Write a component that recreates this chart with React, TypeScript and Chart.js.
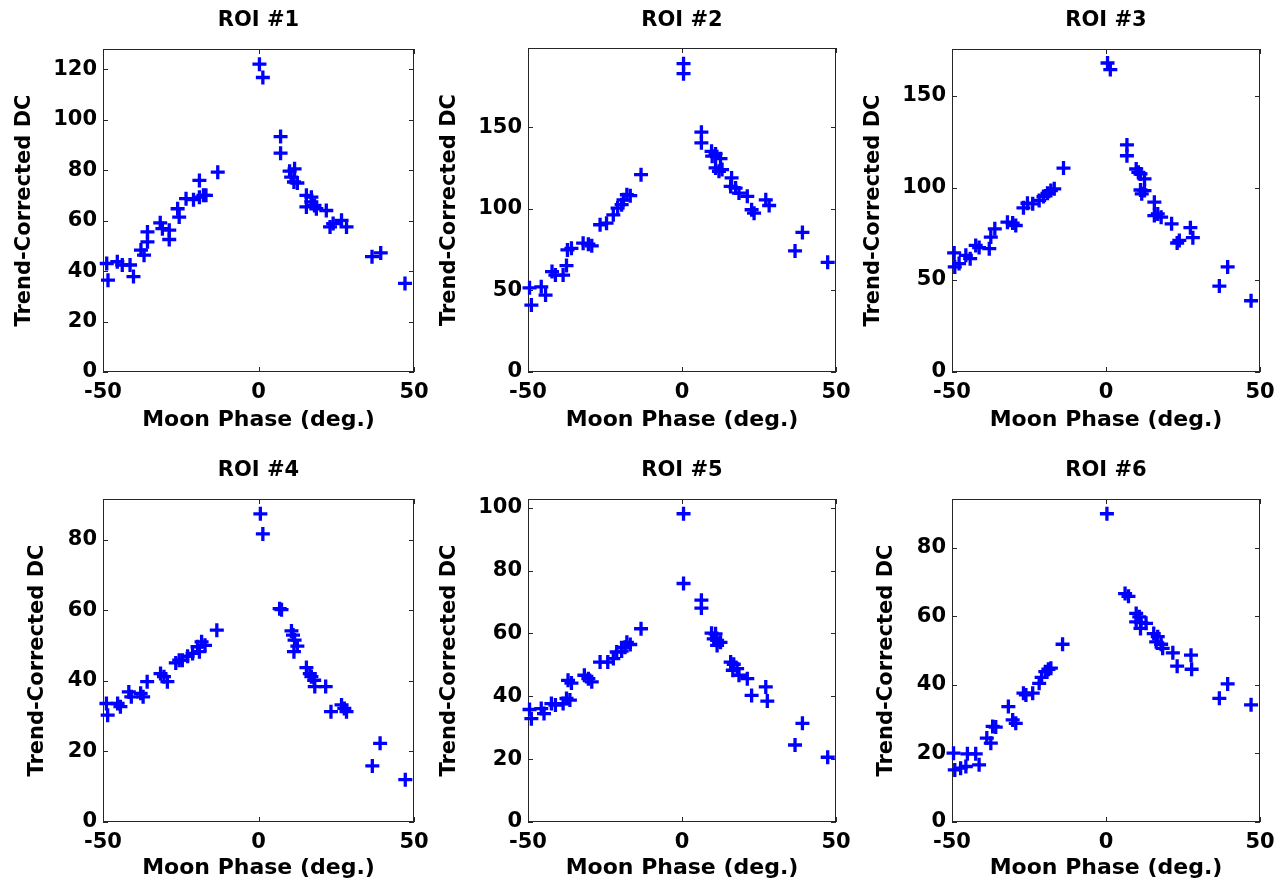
import React, { useEffect, useRef } from "react";
import { Chart, registerables } from "chart.js";

Chart.register(...registerables);

const FONT = "'DejaVu Sans', 'Liberation Sans', sans-serif";

const roiTitles = ["ROI #1", "ROI #2", "ROI #3", "ROI #4", "ROI #5", "ROI #6"];
const xAxisLabel = "Moon Phase (deg.)";
const yAxisLabel = "Trend-Corrected DC";

const xTickValues = [-50, 0, 50];
const yTicks1 = [0, 20, 40, 60, 80, 100, 120];
const yTicks2 = [0, 50, 100, 150];
const yTicks3 = [0, 50, 100, 150];
const yTicks4 = [0, 20, 40, 60, 80];
const yTicks5 = [0, 20, 40, 60, 80, 100];
const yTicks6 = [0, 20, 40, 60, 80];
const yMaxValues = [128, 198.5, 175.5, 91.6, 102.8, 94.3];

const phase1 = [-48.8, -48.4, -45.4, -43.8, -41.3, -40.2, -37.8, -36.8, -35.7, -35.7, -31.6, -30.9, -28.7, -28.7, -26.0, -25.5, -23.3, -20.9, -19.0, -19.0, -17.7, -16.9, -13.1, 0.3, 1.4, 7.1, 7.1, 10.0, 11.6, 10.5, 11.4, 12.5, 15.4, 17.0, 15.4, 17.0, 18.0, 18.6, 21.8, 23.0, 24.0, 26.7, 28.3, 36.5, 39.3, 47.1];
const dc1 = [43, 36.4, 43.7, 42.4, 42.4, 37.8, 48.3, 46.3, 51.6, 55.5, 59.1, 56.8, 56.2, 52.5, 64.7, 61.4, 68.7, 68.3, 75.9, 69.3, 70, 70, 79.2, 122, 116.7, 93.3, 86.7, 79.6, 80.5, 77.2, 75.3, 74.9, 70, 69.3, 65.4, 67.4, 66, 64.7, 64, 57.5, 58.8, 60.1, 57.5, 45.7, 47.2, 35.1];

const phase2 = [-49.5, -48.9, -45.7, -44.3, -42.2, -41.1, -38.6, -37.5, -37.2, -35.9, -32.1, -30.4, -29.3, -26.6, -24.5, -22.3, -20.9, -19.6, -19.0, -17.9, -16.8, -13.3, 0.5, 0.5, 6.3, 6.3, 9.6, 9.8, 10.9, 12.5, 10.9, 12.0, 13.0, 16.1, 15.8, 17.4, 18.5, 21.2, 22.6, 23.4, 27.2, 28.3, 36.7, 39.1, 47.3];
const dc2 = [51.6, 41, 52.2, 47.1, 61.5, 59.4, 59.4, 65.2, 74.8, 75.8, 78.9, 78.3, 77.3, 90.2, 91.2, 96.3, 100.4, 102.5, 105.5, 108.6, 108, 120.9, 188.9, 182.8, 146.9, 140.4, 135.2, 132.2, 133.6, 130.7, 125, 123, 124, 118.9, 113.7, 112.7, 109.6, 107.6, 99.4, 97.3, 105.5, 102, 74.2, 85.5, 67.2];

const phase3 = [-49.3, -49.1, -47.7, -45.5, -44.1, -42.3, -41.2, -37.9, -37.4, -36.1, -32.0, -30.3, -29.3, -26.8, -25.5, -23.8, -21.7, -20.3, -19.0, -17.9, -16.8, -13.8, 0.5, 1.4, 6.8, 6.8, 9.8, 10.5, 11.2, 12.5, 11.2, 12.5, 11.6, 15.7, 15.7, 16.8, 17.9, 21.3, 23.1, 23.8, 27.4, 28.2, 36.8, 39.5, 47.1];
const dc3 = [64.7, 57.1, 58.9, 63.4, 61.6, 68.8, 67.6, 67, 73.3, 77.8, 81.4, 80.9, 79.6, 89.2, 91.7, 91.4, 93.2, 95.3, 97.1, 98.6, 99.5, 110.8, 167.9, 164.3, 123.4, 117.5, 110.3, 108.5, 107.6, 104.9, 98.9, 98.6, 96.8, 92.3, 85, 85.9, 84.1, 80.5, 70.1, 71.5, 78.4, 73, 46.7, 57.1, 38.7];

const phase4 = [-48.9, -48.5, -45.3, -44.4, -41.7, -40.9, -37.9, -37.1, -35.8, -31.5, -30.4, -29.3, -26.6, -25.5, -24.5, -22.8, -21.2, -19.6, -19.0, -18.3, -17.2, -13.4, 0.6, 1.4, 6.8, 7.4, 10.6, 11.1, 11.6, 12.5, 11.4, 15.4, 16.5, 17.0, 17.9, 18.1, 21.6, 23.3, 26.7, 27.6, 28.3, 36.6, 39.1, 47.2];
const dc4 = [33.6, 30.3, 33.6, 32.7, 36.9, 35.5, 36.5, 35.5, 39.8, 42.1, 41.2, 39.8, 45.1, 45.9, 45.9, 47, 47.8, 49.7, 48.3, 51.1, 50.1, 54.4, 87.4, 81.7, 60.5, 60.2, 54.2, 53, 51.6, 49.9, 48.3, 43.8, 42.1, 41.2, 40.2, 38.4, 38.4, 31.3, 33.2, 32.2, 31.3, 15.9, 22.3, 12];

const phase5 = [-49.5, -48.9, -45.7, -44.8, -42.4, -41.1, -38.6, -37.5, -36.4, -37.0, -35.9, -31.7, -30.4, -29.3, -26.6, -24.1, -22.3, -21.2, -19.6, -18.5, -17.9, -16.8, -13.3, 0.5, 0.5, 6.3, 6.3, 9.6, 10.9, 10.3, 11.4, 12.5, 11.4, 15.8, 16.8, 16.5, 17.9, 18.5, 21.2, 22.6, 27.2, 27.7, 36.7, 39.1, 47.3];
const dc5 = [35.8, 32.9, 36.1, 34.5, 37.7, 37.2, 37.7, 39.3, 38.8, 45.1, 44.2, 46.7, 45.6, 44.6, 50.9, 50.9, 52, 54.1, 54.4, 55.6, 57.2, 56.5, 61.5, 98.1, 75.9, 70.6, 68.1, 60.1, 59.9, 58.3, 57.8, 57.2, 56.2, 50.9, 50.2, 48.3, 48.8, 46.7, 45.6, 40.3, 43, 38.5, 24.5, 31.4, 20.6];

const phase6 = [-49.5, -49.1, -47.2, -45.0, -45.5, -42.3, -41.2, -38.7, -37.4, -36.8, -35.8, -31.7, -30.3, -29.3, -26.8, -26.0, -23.8, -21.7, -20.9, -19.7, -18.7, -17.9, -14.1, 0.3, 6.2, 7.3, 9.8, 10.8, 9.8, 11.4, 13.0, 11.2, 15.5, 16.8, 16.3, 17.9, 18.4, 21.7, 23.1, 27.6, 27.8, 36.8, 39.5, 47.1];
const dc6 = [20.1, 15.2, 15.7, 19.9, 16.2, 19.9, 16.7, 24.5, 23, 27.9, 27.7, 33.7, 29.8, 28.8, 37.6, 37.1, 37.6, 40.5, 42.2, 43.9, 44.6, 44.9, 51.9, 90, 66.7, 65.9, 60.9, 59.9, 58.4, 58.2, 58, 56.5, 55, 54.1, 52.6, 51.9, 50.7, 49.4, 45.5, 48.7, 44.6, 36.1, 40.3, 34.2];

const allPhases = [phase1, phase2, phase3, phase4, phase5, phase6];
const allDC = [dc1, dc2, dc3, dc4, dc5, dc6];
const allYTicks = [yTicks1, yTicks2, yTicks3, yTicks4, yTicks5, yTicks6];

// layout: canvas box and plot rectangle in page coordinates
const layouts = [
  { left: 0, top: 0, width: 430, height: 440, plot: [103, 49, 414, 372], titleMid: 21, yLabelOffset: 78, xTitleMid: 420.5 },
  { left: 430, top: 0, width: 425, height: 440, plot: [528, 48, 836, 372], titleMid: 21, yLabelOffset: 78, xTitleMid: 420.5 },
  { left: 855, top: 0, width: 425, height: 440, plot: [952, 49, 1260, 372], titleMid: 21, yLabelOffset: 78, xTitleMid: 420.5 },
  { left: 0, top: 440, width: 430, height: 441, plot: [103, 499, 414, 822], titleMid: 471, yLabelOffset: 65, xTitleMid: 868.5 },
  { left: 430, top: 440, width: 425, height: 441, plot: [528, 499, 836, 822], titleMid: 471, yLabelOffset: 78, xTitleMid: 868.5 },
  { left: 855, top: 440, width: 425, height: 441, plot: [952, 499, 1260, 822], titleMid: 471, yLabelOffset: 65, xTitleMid: 868.5 },
];

const TICK_SIZE = 21;
const TITLE_SIZE = 21;
const YLABEL_SIZE = 21;
const XLABEL_SIZE = 22;

const framePlugin = {
  id: "matlabFrame",
  beforeDatasetsDraw(chart: any) {
    const { ctx, chartArea: a, scales } = chart;
    const x = scales.x;
    const y = scales.y;
    ctx.save();
    ctx.strokeStyle = "#262626";
    ctx.lineWidth = 1;
    ctx.strokeRect(a.left + 0.5, a.top + 0.5, a.right - a.left - 1, a.bottom - a.top - 1);
    const tl = 5;
    ctx.beginPath();
    y.ticks.forEach((t: any) => {
      const py = Math.round(y.getPixelForValue(t.value)) + 0.5;
      ctx.moveTo(a.left, py);
      ctx.lineTo(a.left + tl, py);
      ctx.moveTo(a.right, py);
      ctx.lineTo(a.right - tl, py);
    });
    x.ticks.forEach((t: any) => {
      const px = Math.round(x.getPixelForValue(t.value)) + 0.5;
      ctx.moveTo(px, a.bottom);
      ctx.lineTo(px, a.bottom - tl);
      ctx.moveTo(px, a.top);
      ctx.lineTo(px, a.top + tl);
    });
    ctx.stroke();
    ctx.restore();
  },
};

function Panel({ index }: { index: number }) {
  const ref = useRef<HTMLCanvasElement | null>(null);
  const lay = layouts[index];
  useEffect(() => {
    if (!ref.current) return;
    const L = lay.plot[0] - lay.left;
    const T = lay.plot[1] - lay.top;
    const R = lay.plot[2] - lay.left;
    const B = lay.plot[3] - lay.top;
    const xs = allPhases[index];
    const ys = allDC[index];
    const yTicks = allYTicks[index];
    const titleHalf = (TITLE_SIZE * 1.2) / 2;
    const titleTop = lay.titleMid - lay.top - titleHalf;
    const yLabHalf = (YLABEL_SIZE * 1.2) / 2;
    const xLabHalf = (XLABEL_SIZE * 1.2) / 2;
    const xTitleBottom = Math.max(0, lay.top + lay.height - lay.xTitleMid - xLabHalf);
    const chart = new Chart(ref.current, {
      type: "scatter",
      data: {
        datasets: [
          {
            data: xs.map((x, i) => ({ x, y: ys[i] })),
            pointStyle: "cross",
            pointRadius: 7,
            pointHoverRadius: 7,
            borderColor: "#0000ff",
            backgroundColor: "#0000ff",
            borderWidth: 3.3,
            pointBorderWidth: 3.3,
            clip: false,
          } as any,
        ],
      },
      options: {
        animation: false,
        responsive: false,
        maintainAspectRatio: false,
        events: [],
        layout: { padding: { left: 0, top: 0, right: lay.width - R, bottom: 0 } },
        plugins: {
          legend: { display: false },
          tooltip: { enabled: false },
          title: {
            display: true,
            text: roiTitles[index],
            fullSize: false,
            color: "#000000",
            font: { family: FONT, size: TITLE_SIZE, weight: "bold", lineHeight: 1.2 },
            padding: { top: titleTop, bottom: T - titleHalf * 2 - titleTop },
          },
        },
        scales: {
          x: {
            type: "linear",
            min: -50,
            max: 50,
            afterBuildTicks: (s: any) => {
              s.ticks = xTickValues.map((v) => ({ value: v }));
            },
            afterFit: (s: any) => {
              s.height = lay.height - B;
              s.paddingLeft = 0;
              s.paddingRight = 0;
            },
            grid: { display: false, drawTicks: false },
            border: { display: false },
            ticks: {
              padding: 8,
              autoSkip: false,
              maxRotation: 0,
              color: "#000000",
              font: { family: FONT, size: TICK_SIZE, weight: "bold" },
            },
            title: {
              display: true,
              text: xAxisLabel,
              color: "#000000",
              font: { family: FONT, size: XLABEL_SIZE, weight: "bold", lineHeight: 1.2 },
              padding: { top: 0, bottom: xTitleBottom },
            },
          },
          y: {
            type: "linear",
            min: 0,
            max: yMaxValues[index],
            afterBuildTicks: (s: any) => {
              s.ticks = yTicks.map((v) => ({ value: v }));
            },
            afterFit: (s: any) => {
              s.width = L;
              s.paddingTop = 0;
              s.paddingBottom = 0;
            },
            grid: { display: false, drawTicks: false },
            border: { display: false },
            ticks: {
              padding: 6,
              autoSkip: false,
              color: "#000000",
              font: { family: FONT, size: TICK_SIZE, weight: "bold" },
            },
            title: {
              display: true,
              text: yAxisLabel,
              color: "#000000",
              font: { family: FONT, size: YLABEL_SIZE, weight: "bold", lineHeight: 1.2 },
              padding: { top: L - lay.yLabelOffset - yLabHalf, bottom: 0 },
            },
          },
        },
      } as any,
      plugins: [framePlugin],
    });
    return () => chart.destroy();
  }, [index]);
  return (
    <div style={{ position: "absolute", left: lay.left, top: lay.top, width: lay.width, height: lay.height }}>
      <canvas ref={ref} width={lay.width} height={lay.height} style={{ display: "block" }} />
    </div>
  );
}

export default function App() {
  return (
    <div style={{ position: "absolute", left: 0, top: 0, width: 1280, height: 881, background: "#ffffff", overflow: "hidden" }}>
      {layouts.map((_, i) => (
        <Panel key={i} index={i} />
      ))}
    </div>
  );
}
